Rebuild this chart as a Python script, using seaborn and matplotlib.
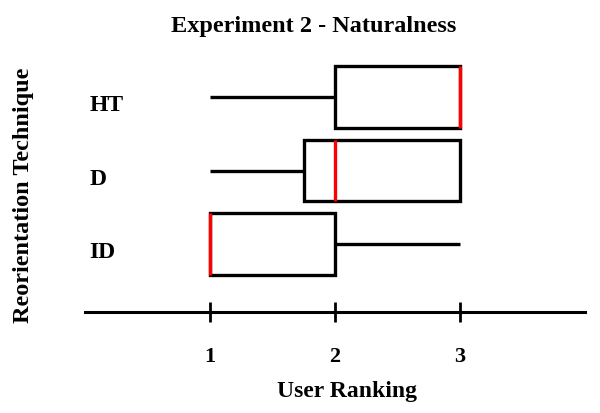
import pandas as pd
import matplotlib
matplotlib.use("Agg")
import matplotlib.pyplot as plt
import matplotlib.transforms as mtransforms
import seaborn as sns

# user rankings (1-3) per reorientation technique
techniques = ['HT', 'D', 'ID']
ht_ranks = [1, 2, 2, 3, 3, 3, 3, 3]
d_ranks = [1, 1, 2, 2, 2, 3, 3, 3]
id_ranks = [1, 1, 1, 1, 1, 2, 2, 3]
x_ticks = [1, 2, 3]

df = pd.DataFrame({
    'Technique': ['HT'] * len(ht_ranks) + ['D'] * len(d_ranks) + ['ID'] * len(id_ranks),
    'Ranking': ht_ranks + d_ranks + id_ranks,
})

sns.set_style('white')
plt.rcParams['font.family'] = ['Liberation Serif', 'DejaVu Serif']
plt.rcParams['font.weight'] = 'bold'
plt.rcParams['text.color'] = 'black'
plt.rcParams['xtick.color'] = 'black'
plt.rcParams['ytick.color'] = 'black'
plt.rcParams['axes.labelcolor'] = 'black'

fig = plt.figure(figsize=(6, 4.13), dpi=100)
ax = fig.add_axes([0.142, 0.2446, 0.833, 0.61])

sns.boxplot(data=df, x='Ranking', y='Technique', order=techniques, orient='h',
            color='white', linecolor='black', linewidth=2.4, width=0.84,
            showcaps=False, medianprops={'color': 'red', 'linewidth': 2.4},
            ax=ax)

ax.set_xlim(0, 4)
ax.set_ylim(2.92, -0.5)
ax.set_xticks(x_ticks)
ax.set_xticklabels([str(t) for t in x_ticks], fontsize=16, fontweight='bold')
ax.tick_params(axis='x', direction='inout', length=14, width=2, pad=18, bottom=True)
ax.tick_params(axis='y', length=0, pad=-3)

for side in ['top', 'right', 'left']:
    ax.spines[side].set_visible(False)
ax.spines['bottom'].set_linewidth(2.2)
ax.spines['bottom'].set_color('black')

ax.set_xlabel('User Ranking', fontsize=17, fontweight='bold')
ax.xaxis.set_label_coords(0.524, -0.275)
ax.set_ylabel('')
fig.text(0.04, 0.528, 'Reorientation Technique', rotation=90, fontsize=17.5,
         fontweight='bold', ha='center', va='center')
fig.suptitle('Experiment 2 - Naturalness', fontsize=17.5, fontweight='bold',
             x=0.522, y=0.962)

# technique labels sit a little below the box centres
shift = mtransforms.ScaledTranslation(0, -6 / 100, fig.dpi_scale_trans)
for lbl in ax.get_yticklabels():
    lbl.set_horizontalalignment('left')
    lbl.set_fontsize(17)
    lbl.set_fontweight('bold')
    lbl.set_transform(lbl.get_transform() + shift)

fig.savefig('out.png', dpi=100)
